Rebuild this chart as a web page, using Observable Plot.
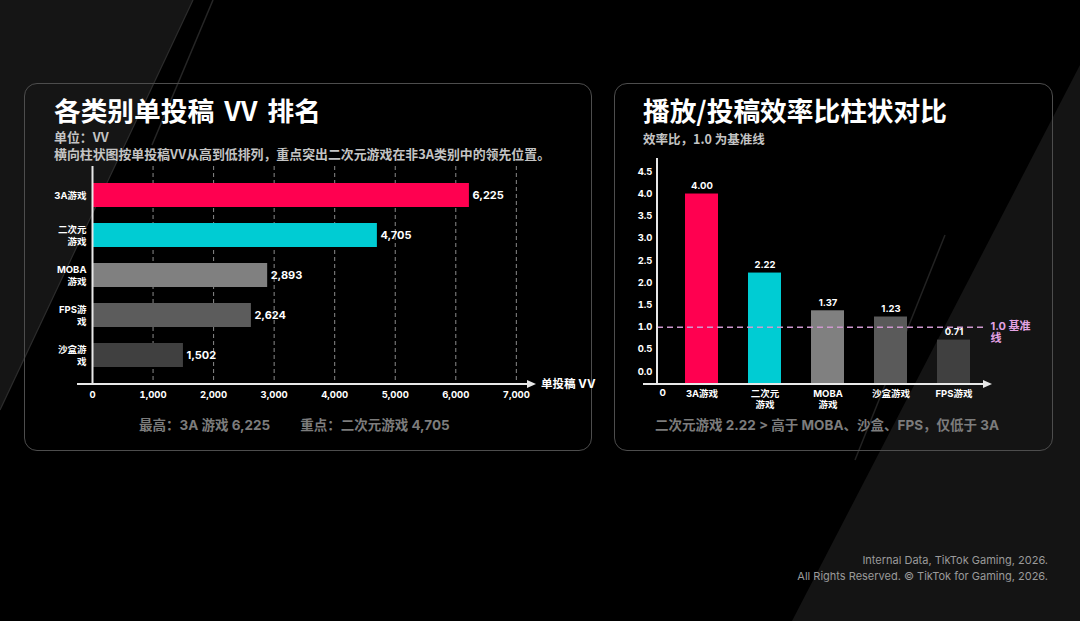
<!DOCTYPE html>
<html>
<head>
<meta charset="utf-8">
<script src="https://cdn.jsdelivr.net/npm/d3@7"></script>
<script src="https://cdn.jsdelivr.net/npm/@observablehq/plot@0.6"></script>
<style>
  html, body { margin: 0; padding: 0; background: #000; }
  body { width: 1080px; height: 621px; position: relative; overflow: hidden;
         font-family: Inter, "Noto Sans CJK SC", sans-serif; color: #fff; }
  #bg { position: absolute; left: 0; top: 0; }
  .panel { position: absolute; border: 1.5px solid #4d4d4d; border-radius: 13px; box-sizing: border-box; }
  .abs { position: absolute; white-space: nowrap; }
  .title { font-family: "Noto Sans CJK SC", sans-serif; font-size: 26.7px; font-weight: 700; line-height: 30px; color: #fff; }
  .sub { font-family: "Noto Sans CJK SC", sans-serif; font-size: 12.5px; font-weight: 700; line-height: 14px; color: #c4c4c4; }
  .note { font-family: Inter, "Noto Sans CJK SC", sans-serif; font-size: 13.5px; font-weight: 700; line-height: 16px; color: #7c7c7c; }
  .footer { right: 32px; top: 552px; text-align: right; font-family: Inter, sans-serif; font-size: 11px; line-height: 16px; color: #9a9a9a; }
  #leftChart { position: absolute; left: 30px; top: 160px; }
  #rightChart { position: absolute; left: 620px; top: 150px; }
</style>
</head>
<body>
<svg id="bg" width="1080" height="621">
  <polygon points="0,0 193,0 0,410" fill="#151515"/>
  <line x1="193" y1="0" x2="0" y2="410" stroke="#2c2c2c" stroke-width="1.2"/>
  <line x1="213" y1="0" x2="152" y2="145" stroke="#262626" stroke-width="1.5"/>
  <polygon points="1080,65 1080,621 792,621" fill="#141414"/>
  <line x1="945" y1="235" x2="855" y2="460" stroke="#222" stroke-width="1.5"/>
</svg>

<div class="panel" style="left:24px;top:83px;width:568px;height:368px;"></div>
<div class="panel" style="left:614px;top:83px;width:439px;height:368px;"></div>

<div class="abs title" style="left:54px;top:95px;word-spacing:4px;">各类别单投稿 VV 排名</div>
<div class="abs sub" style="left:54px;top:130px;font-size:12.9px;">单位：VV</div>
<div class="abs sub" style="left:54px;top:147px;font-size:12.9px;">横向柱状图按单投稿VV从高到低排列，重点突出二次元游戏在非3A类别中的领先位置。</div>

<div class="abs title" style="left:643px;top:95px;">播放/投稿效率比柱状对比</div>
<div class="abs sub" style="left:643px;top:132px;">效率比，1.0 为基准线</div>

<div id="leftChart"></div>
<div id="rightChart"></div>

<div class="abs note" style="left:139px;top:417px;">最高：3A 游戏 6,225<span style="display:inline-block;width:30px"></span>重点：二次元游戏 4,705</div>
<div class="abs note" style="left:655px;top:417px;">二次元游戏 2.22 &gt; 高于 MOBA、沙盒、FPS，仅低于 3A</div>

<div class="abs footer">Internal Data, TikTok Gaming, 2026.<br>All Rights Reserved. © TikTok for Gaming, 2026.</div>

<script>
// ---------- Data ----------
const vvCategories = ["3A游戏", "二次元游戏", "MOBA游戏", "FPS游戏", "沙盒游戏"];
const vvLabels = ["3A游戏", "二次元\n游戏", "MOBA\n游戏", "FPS游\n戏", "沙盒游\n戏"];
const vvValues = [6225, 4705, 2893, 2624, 1502];
const vvTicks = [0, 1000, 2000, 3000, 4000, 5000, 6000, 7000];
const vvAxisMax = 7300;
const vvAxisTitle = "单投稿 VV";

const effCategories = ["3A游戏", "二次元游戏", "MOBA游戏", "沙盒游戏", "FPS游戏"];
const effLabels = ["3A游戏", "二次元\n游戏", "MOBA\n游戏", "沙盒游戏", "FPS游戏"];
const effValues = [4.00, 2.22, 1.37, 1.23, 0.71];
const effTicks = [0, 0.5, 1.0, 1.5, 2.0, 2.5, 3.0, 3.5, 4.0, 4.5];
const effAxisMin = -0.29;
const effAxisMax = 4.8;
const baselineValue = 1.0;
const baselineLabel = "1.0 基准\n线";
const originLabel = "0";

// ---------- Styles ----------
const vvColors = ["#FF0050", "#00CCD3", "#808080", "#5c5c5c", "#404040"];
const effColors = ["#FF0050", "#00CCD3", "#808080", "#5a5a5a", "#404040"];
const axisColor = "#e8e8e8";
const fontStack = "Inter, 'Noto Sans CJK SC', sans-serif";

const vvData = vvCategories.map((c, i) => ({cat: c, label: vvLabels[i], value: vvValues[i], color: vvColors[i]}));
const effData = effCategories.map((c, i) => ({cat: c, label: effLabels[i], value: effValues[i], color: effColors[i]}));
const vvLabelOf = Object.fromEntries(vvData.map(d => [d.cat, d.label]));
const effLabelOf = Object.fromEntries(effData.map(d => [d.cat, d.label]));

function leftAxisArrow(index, scales, values, dims) {
  const y = dims.height - dims.marginBottom;
  const x0 = scales.x(0) - 15, x1 = scales.x(vvAxisMax);
  const g = d3.create("svg:g");
  g.append("line").attr("x1", x0).attr("x2", x1 - 5).attr("y1", y).attr("y2", y)
    .attr("stroke", axisColor).attr("stroke-width", 2);
  g.append("path").attr("d", `M${x1 + 2},${y}L${x1 - 7},${y - 4}L${x1 - 7},${y + 4}Z`).attr("fill", axisColor);
  g.append("text").attr("x", x1 + 7).attr("y", y).attr("dy", "0.35em").attr("text-anchor", "start")
    .attr("fill", "#fff").attr("font-size", 11.5).attr("font-weight", 700).text(vvAxisTitle);
  return g.node();
}

function rightAxes(index, scales, values, dims) {
  const y = dims.height - dims.marginBottom;
  const xl = dims.marginLeft;
  const x0 = xl - 14, x1 = dims.width - dims.marginRight + 5;
  const g = d3.create("svg:g");
  g.append("line").attr("x1", xl).attr("x2", xl).attr("y1", dims.marginTop).attr("y2", y)
    .attr("stroke", axisColor).attr("stroke-width", 2);
  g.append("line").attr("x1", x0).attr("x2", x1 - 5).attr("y1", y).attr("y2", y)
    .attr("stroke", axisColor).attr("stroke-width", 2);
  g.append("path").attr("d", `M${x1 + 2},${y}L${x1 - 7},${y - 4}L${x1 - 7},${y + 4}Z`).attr("fill", axisColor);
  return g.node();
}

const left = Plot.plot({
  width: 564, height: 248,
  marginLeft: 62, marginRight: 60, marginTop: 6, marginBottom: 24,
  style: {background: "transparent", color: "#fff", fontFamily: fontStack, fontSize: "9.5px", fontWeight: 700, overflow: "visible"},
  x: {domain: [0, vvAxisMax]},
  y: {domain: vvCategories, padding: 0.4},
  color: {type: "identity"},
  marks: [
    Plot.ruleX(vvTicks.slice(1), {stroke: "#8a8a8a", strokeWidth: 1, strokeDasharray: "4,3"}),
    Plot.barX(vvData, {x: "value", y: "cat", fill: "color"}),
    Plot.text(vvData, {x: "value", y: "cat", text: d => d3.format(",")(d.value), dx: 3, textAnchor: "start", fill: "#fff", fontSize: 11, fontWeight: 700}),
    Plot.ruleX([0], {stroke: axisColor, strokeWidth: 2}),
    Plot.axisX({ticks: vvTicks, tickSize: 0, tickPadding: 7, tickFormat: d3.format(","), label: null, fontSize: 9.5}),
    Plot.axisY({tickSize: 0, tickPadding: 6, tickFormat: c => vvLabelOf[c], label: null, lineHeight: 1.2, fontSize: 9.5}),
    leftAxisArrow
  ]
});
document.getElementById("leftChart").appendChild(left);

const right = Plot.plot({
  width: 430, height: 265,
  marginLeft: 37, marginRight: 65, marginTop: 8, marginBottom: 31,
  style: {background: "transparent", color: "#fff", fontFamily: fontStack, fontSize: "9.5px", fontWeight: 700, overflow: "visible"},
  x: {domain: effCategories, range: [37, 378], paddingInner: 0.48, paddingOuter: 0.42},
  y: {domain: [effAxisMin, effAxisMax]},
  color: {type: "identity"},
  marks: [
    Plot.barY(effData, {x: "cat", y1: effAxisMin, y2: "value", fill: "color"}),
    Plot.ruleY([baselineValue], {stroke: "#cf98cf", strokeWidth: 1.5, strokeDasharray: "6,4"}),
    Plot.text([baselineValue], {y: d => d, frameAnchor: "right", dx: 5, dy: -6, textAnchor: "start", lineAnchor: "top", text: () => baselineLabel, fill: "#e3a3e3", fontSize: 11, lineHeight: 1.1}),
    Plot.text(effData, {x: "cat", y: "value", text: d => d.value.toFixed(2), dy: -8, fill: "#fff", fontSize: 9.5}),
    Plot.axisY({ticks: effTicks, tickSize: 0, tickPadding: 5, tickFormat: d3.format(".1f"), label: null, fontSize: 9.5}),
    Plot.axisX({tickSize: 0, tickPadding: 5, tickFormat: c => effLabelOf[c], label: null, lineHeight: 1.15, fontSize: 9.5}),
    Plot.text([originLabel], {frameAnchor: "bottom-left", dx: 2, dy: 11, text: d => d, fill: "#fff", fontSize: 9.5}),
    rightAxes
  ]
});
document.getElementById("rightChart").appendChild(right);
</script>
</body>
</html>
